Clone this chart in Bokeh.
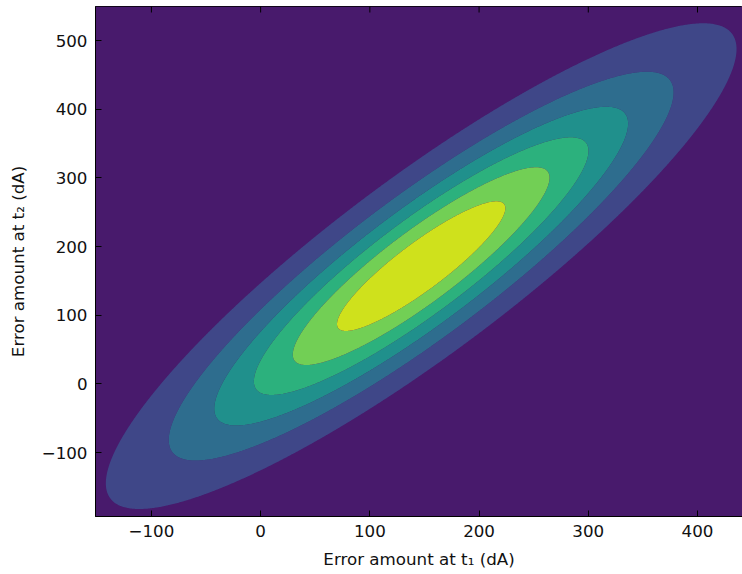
import numpy as np
from bokeh.plotting import figure
from bokeh.models import FixedTicker, Range1d
from bokeh.palettes import Viridis256
from bokeh.embed import file_html
from bokeh.resources import INLINE

# Bivariate normal describing the errors at t1 and t2
mean_t1 = 147.0
mean_t2 = 171.5
sigma_t1 = 147.0
sigma_t2 = 180.0
rho = 0.894

# filled-contour levels of the density
levels = [0.0, 1.95e-6, 3.9e-6, 5.85e-6, 7.8e-6, 9.75e-6, 11.7e-6, 13.65e-6]

x_ticks = [-100, 0, 100, 200, 300, 400]
y_ticks = [-100, 0, 100, 200, 300, 400, 500]
x_lim = [-151.2, 441.2]
y_lim = [-193.0, 549.5]

x_label = "Error amount at t\u2081 (dA)"
y_label = "Error amount at t\u2082 (dA)"

# density grid
xs = np.linspace(x_lim[0], x_lim[1], 600)
ys = np.linspace(y_lim[0], y_lim[1], 600)
X, Y = np.meshgrid(xs, ys)
u = (X - mean_t1) / sigma_t1
v = (Y - mean_t2) / sigma_t2
q = (u * u - 2 * rho * u * v + v * v) / (1 - rho ** 2)
Z = np.exp(-0.5 * q) / (2 * np.pi * sigma_t1 * sigma_t2 * np.sqrt(1 - rho ** 2))

n_bands = len(levels) - 1
colors = [Viridis256[min(255, int((i + 0.5) / n_bands * 256))] for i in range(n_bands)]

p = figure(width=742, height=574, output_backend="svg", toolbar_location=None,
           x_range=Range1d(*x_lim), y_range=Range1d(*y_lim),
           min_border_left=95, min_border_right=0, min_border_top=6, min_border_bottom=58)
p.background_fill_color = colors[0]
p.border_fill_color = "white"
p.grid.visible = False
p.outline_line_color = "black"
p.outline_line_width = 1

p.contour(xs, ys, Z, levels, fill_color=colors)

# inward tick marks along the top edge (half of each dash is clipped by the frame)
p.scatter(x=x_ticks, y=[y_lim[1]] * len(x_ticks), marker="dash", angle=np.pi / 2,
          size=12, line_color="black", line_width=1)

FONT = "DejaVu Sans"
TXT = "#111111"

def style_axis(ax, ticks):
    ax.ticker = FixedTicker(ticks=ticks, minor_ticks=[])
    ax.major_tick_in = 6
    ax.major_tick_out = 0
    ax.minor_tick_line_color = None
    ax.axis_line_color = "black"
    ax.major_tick_line_color = "black"
    ax.major_label_overrides = {t: str(t).replace("-", "\u2212") for t in ticks}
    ax.major_label_text_font = FONT
    ax.major_label_text_color = TXT
    ax.major_label_text_font_size = "16.7px"
    ax.major_label_standoff = 8

style_axis(p.xaxis[0], x_ticks)
style_axis(p.yaxis[0], y_ticks)
p.xaxis[0].axis_label_standoff = 9
p.yaxis[0].axis_label_standoff = 11
for ax, lbl in ((p.xaxis[0], x_label), (p.yaxis[0], y_label)):
    ax.axis_label = lbl
    ax.axis_label_text_font = FONT
    ax.axis_label_text_font_size = "16.7px"
    ax.axis_label_text_font_style = "normal"
    ax.axis_label_text_color = TXT

open("out.html", "w").write(file_html(p, INLINE))
